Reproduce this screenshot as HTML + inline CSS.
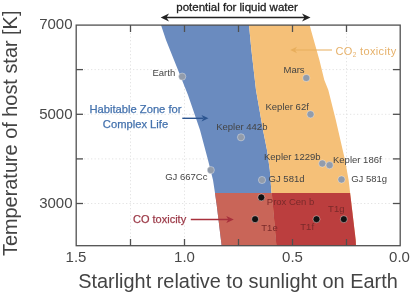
<!DOCTYPE html>
<html><head><meta charset="utf-8">
<style>
html,body{margin:0;padding:0;background:#fff;width:410px;height:296px;overflow:hidden}
svg{display:block;filter:blur(0.3px)}
text{font-family:"Liberation Sans",sans-serif}
</style></head>
<body>
<svg width="410" height="296" viewBox="0 0 410 296">
<defs>
<clipPath id="plot"><rect x="76" y="25" width="324" height="221"/></clipPath>
</defs>
<!-- gridlines -->
<g stroke="#e4e4e4" stroke-width="1" stroke-dasharray="1.3 2.2">
<line x1="77" y1="69.6" x2="399" y2="69.6"/>
<line x1="77" y1="114.3" x2="399" y2="114.3"/>
<line x1="77" y1="158.9" x2="399" y2="158.9"/>
<line x1="77" y1="203.5" x2="399" y2="203.5"/>
<line x1="130.5" y1="26" x2="130.5" y2="245"/>
<line x1="184.5" y1="26" x2="184.5" y2="245"/>
<line x1="238.5" y1="26" x2="238.5" y2="245"/>
<line x1="292.5" y1="26" x2="292.5" y2="245"/>
<line x1="346.5" y1="26" x2="346.5" y2="245"/>
</g>
<g clip-path="url(#plot)">
<!-- blue band -->
<polygon fill="#6a8bbf" points="161,25 166,40 174,60 188,95 200,130 208,160 213,180 215,193 216.7,205 221.8,247 276.5,247 271.5,193 269.8,170 267,150 263,130 256,90 251.4,50 249,25"/>
<!-- orange band -->
<polygon fill="#f5c078" points="249,25 251.4,50 256,90 263,130 267,150 269.8,170 271.5,193 276.5,247 356,247 355.7,240 348.6,180 345,160 335.8,120 328.3,90 324.3,80 319.4,60 311.5,32 309.7,25"/>
<!-- red light -->
<polygon fill="#c96558" points="215,193 216.7,205 221.8,247 276.5,247 271.8,193"/>
<!-- red dark -->
<polygon fill="#bb3e3e" points="271.8,193 276.5,247 356,247 355.7,240 350.1,193"/>
</g>
<!-- axes -->
<rect x="76.2" y="25.1" width="324" height="220.6" fill="none" stroke="#505050" stroke-width="1.3"/>
<g stroke="#505050" stroke-width="1.3">
<line x1="76" y1="69.6" x2="83" y2="69.6"/><line x1="76" y1="114.3" x2="83" y2="114.3"/><line x1="76" y1="158.9" x2="83" y2="158.9"/><line x1="76" y1="203.5" x2="83" y2="203.5"/>
<line x1="400" y1="69.6" x2="393" y2="69.6"/><line x1="400" y1="114.3" x2="393" y2="114.3"/><line x1="400" y1="158.9" x2="393" y2="158.9"/><line x1="400" y1="203.5" x2="393" y2="203.5"/>
<line x1="130.5" y1="246" x2="130.5" y2="239"/><line x1="184.5" y1="246" x2="184.5" y2="239"/><line x1="238.5" y1="246" x2="238.5" y2="239"/><line x1="292.5" y1="246" x2="292.5" y2="239"/><line x1="346.5" y1="246" x2="346.5" y2="239"/>
<line x1="130.5" y1="25" x2="130.5" y2="32"/><line x1="184.5" y1="25" x2="184.5" y2="32"/><line x1="238.5" y1="25" x2="238.5" y2="32"/><line x1="292.5" y1="25" x2="292.5" y2="32"/><line x1="346.5" y1="25" x2="346.5" y2="32"/>
</g>
<!-- tick labels -->
<g font-size="15" fill="#484848" text-anchor="end">
<text x="72.5" y="29">7000</text>
<text x="72.5" y="119">5000</text>
<text x="72.5" y="208">3000</text>
</g>
<g font-size="15" fill="#484848" text-anchor="middle">
<text x="76" y="262.3">1.5</text>
<text x="184.5" y="262.3">1.0</text>
<text x="292.5" y="262.3">0.5</text>
<text x="399.5" y="262.3">0.0</text>
</g>
<text x="238" y="288.4" font-size="19.9" fill="#444" text-anchor="middle">Starlight relative to sunlight on Earth</text>
<text transform="translate(17.4,133.3) rotate(-90)" font-size="19.9" fill="#444" text-anchor="middle">Temperature of host star [K]</text>

<!-- top arrow -->
<text x="237" y="10.5" font-size="11.5" fill="#222" stroke="#222" stroke-width="0.3" text-anchor="middle">potential for liquid water</text>
<line x1="166" y1="17.6" x2="305" y2="17.6" stroke="#222" stroke-width="1.5"/>
<path d="M160.7,17.5 L169,13.5 L166.5,17.5 L169,21.5 Z" fill="#222"/>
<path d="M310.5,17.5 L302,13.5 L304.5,17.5 L302,21.5 Z" fill="#222"/>

<!-- HZ label -->
<g font-size="11.2" fill="#4371ad" stroke="#4371ad" stroke-width="0.25" text-anchor="middle">
<text x="135.5" y="113.4">Habitable Zone for</text>
<text x="135.5" y="127.9">Complex Life</text>
</g>
<line x1="182.3" y1="118.3" x2="203" y2="118.3" stroke="#2c5590" stroke-width="1.4"/>
<path d="M208.5,118.3 L201.5,115 L203.5,118.3 L201.5,121.6 Z" fill="#2c5590"/>

<!-- CO2 -->
<text x="335.5" y="54.6" font-size="11" letter-spacing="0.35" fill="#e6b16a">CO<tspan font-size="6.5" dy="2.8">2</tspan><tspan dy="-2.8"> toxicity</tspan></text>
<line x1="295" y1="50" x2="332" y2="50" stroke="#e8ae5c" stroke-width="1.2"/>
<path d="M290.2,50 L297,46.7 L295,50 L297,53.3 Z" fill="#e8ae5c"/>

<!-- CO toxicity -->
<text x="133" y="222.6" font-size="11" fill="#9c3a48" stroke="#9c3a48" stroke-width="0.25">CO toxicity</text>
<line x1="190.8" y1="219.5" x2="229" y2="219.5" stroke="#a8303c" stroke-width="1.4"/>
<path d="M233.8,219.5 L226.3,216 L228.3,219.5 L226.3,223 Z" fill="#a8303c"/>

<!-- planet labels -->
<g font-size="9.5" fill="#444">
<text x="152.5" y="75.5">Earth</text>
<text x="283.5" y="73.2">Mars</text>
<text x="265.5" y="109.6">Kepler 62f</text>
<text x="216.2" y="129.6">Kepler 442b</text>
<text x="264" y="159.6">Kepler 1229b</text>
<text x="333" y="162.6">Kepler 186f</text>
<text x="165.2" y="180.1">GJ 667Cc</text>
<text x="268.6" y="182.4">GJ 581d</text>
<text x="351.2" y="181.8">GJ 581g</text>
</g>
<g font-size="9.5" fill="#7a2a2a">
<text x="266.8" y="205.1">Prox Cen b</text>
<text x="261.3" y="230.7">T1e</text>
<text x="300.3" y="230">T1f</text>
<text x="328.1" y="212.1">T1g</text>
</g>
<!-- dots -->
<g fill="#929cab" stroke="rgba(255,255,255,0.35)" stroke-width="1">
<circle cx="182.2" cy="76.6" r="3.6"/>
<circle cx="306.3" cy="78" r="3.6"/>
<circle cx="310.5" cy="114.3" r="3.6"/>
<circle cx="241" cy="137.3" r="3.6"/>
<circle cx="322.3" cy="163.5" r="3.6"/>
<circle cx="329.6" cy="165.2" r="3.6"/>
<circle cx="210.8" cy="170.1" r="3.6"/>
<circle cx="262" cy="180" r="3.6"/>
<circle cx="341.5" cy="179.5" r="3.6"/>
</g>
<g fill="#111" stroke="rgba(255,230,230,0.45)" stroke-width="1">
<circle cx="261.3" cy="197.4" r="3.5"/>
<circle cx="255.1" cy="219.2" r="3.5"/>
<circle cx="316.5" cy="219.2" r="3.5"/>
<circle cx="343.8" cy="219.2" r="3.5"/>
</g>
</svg>
</body></html>
